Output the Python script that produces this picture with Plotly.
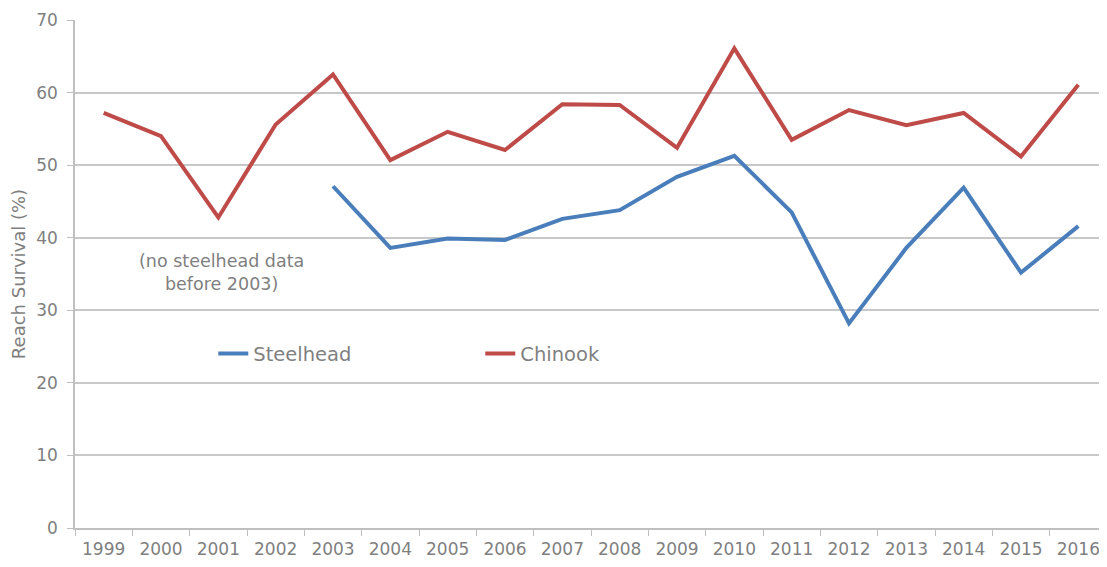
import plotly.graph_objects as go

years = [str(y) for y in range(1999, 2017)]
chinook = [57.2, 54.0, 42.8, 55.6, 62.5, 50.7, 54.6, 52.1, 58.4, 58.3,
           52.4, 66.1, 53.5, 57.6, 55.5, 57.2, 51.2, 61.1]
steelhead = [None, None, None, None, 47.1, 38.6, 39.9, 39.7, 42.6, 43.8,
             48.4, 51.3, 43.5, 28.2, 38.6, 46.9, 35.2, 41.6]

grey = "#7F7F7F"
font_family = "'DejaVu Sans', sans-serif"

fig = go.Figure()
fig.add_trace(go.Scatter(
    x=years, y=steelhead, mode="lines", name="Steelhead",
    line=dict(color="#4A7EBB", width=4), connectgaps=False
))
fig.add_trace(go.Scatter(
    x=years, y=chinook, mode="lines", name="Chinook",
    line=dict(color="#BE4B48", width=4)
))

fig.add_annotation(
    x=2.05, y=35.2, xref="x", yref="y",
    text="(no steelhead data<br>before 2003)", showarrow=False,
    font=dict(size=17.5, color=grey, family=font_family), align="center"
)

# page body has an 8px default margin, so the figure is sized to fit the window
fig.update_layout(
    width=1099, height=559,
    margin=dict(l=67, r=0, t=12, b=39, autoexpand=False),
    plot_bgcolor="white", paper_bgcolor="white",
    font=dict(family=font_family, color=grey, size=17),
    legend=dict(
        orientation="h", x=0.134, y=0.343, xanchor="left", yanchor="middle",
        font=dict(size=19.5, color=grey), entrywidth=222,
        bgcolor="rgba(0,0,0,0)"
    ),
    showlegend=True,
)
fig.update_yaxes(
    range=[0, 70.01], tick0=0, dtick=10, showgrid=True, gridcolor="#C8C8C8", gridwidth=1.5,
    showline=True, linecolor="#BFBFBF", linewidth=1.5,
    ticks="outside", ticklen=6, tickcolor="#BFBFBF", ticklabelstandoff=6,
    zeroline=False, tickfont=dict(size=17, color=grey),
    title=dict(text="Reach Survival (%)", font=dict(size=18, color=grey), standoff=7)
)
fig.update_xaxes(
    type="category", showgrid=False, showline=True, linecolor="#BFBFBF", linewidth=1.5,
    ticks="outside", tickson="boundaries", ticklen=6, tickcolor="#BFBFBF",
    ticklabelstandoff=5,
    tickfont=dict(size=17, color=grey), range=[-0.5, 17.5]
)

fig.write_html("out.html")
